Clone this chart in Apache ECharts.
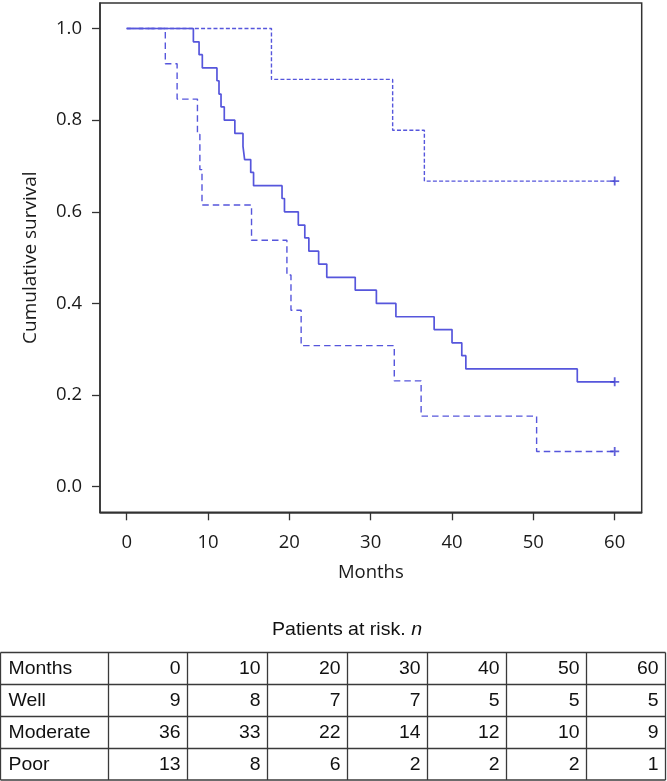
<!DOCTYPE html>
<html><head><meta charset="utf-8">
<script src="https://cdn.jsdelivr.net/npm/echarts@6/dist/echarts.min.js"></script>
<style>html,body{margin:0;padding:0;background:#fff}#c{width:667px;height:781px}</style>
</head><body><div id="c"></div>
<script>
// ---- data ----
const xTicks = [0, 10, 20, 30, 40, 50, 60];
const yTicks = [0, 0.2, 0.4, 0.6, 0.8, 1.0];

const wellT = [0, 17.8, 32.7, 36.6, 60];
const wellS = [1, 0.889, 0.778, 0.667, 0.667];

const modT = [0, 8.2, 8.9, 9.3, 11.1, 11.35, 11.6, 12.0, 13.3, 14.3, 14.5, 15.25, 15.6,
  19.1, 19.4, 21.1, 21.9, 22.4, 23.6, 24.6, 28.1, 30.7, 33.1, 37.8, 40.0, 41.2, 41.7, 55.4, 60];
const modS = [1, 0.971, 0.943, 0.914, 0.886, 0.857, 0.829, 0.800, 0.771, 0.743, 0.714, 0.686, 0.657,
  0.629, 0.600, 0.571, 0.543, 0.514, 0.486, 0.457, 0.429, 0.400, 0.371, 0.343, 0.314, 0.286, 0.257, 0.229, 0.229];

const poorT = [0, 4.75, 6.2, 8.7, 9.0, 9.26, 15.35, 19.7, 20.2, 21.45, 32.9, 36.2, 50.4, 60];
const poorS = [1, 0.923, 0.846, 0.769, 0.692, 0.615, 0.538, 0.462, 0.385, 0.308, 0.231, 0.154, 0.077, 0.077];

const riskHeader = ['Months', '0', '10', '20', '30', '40', '50', '60'];
const riskWell = ['Well', 9, 8, 7, 7, 5, 5, 5];
const riskModerate = ['Moderate', 36, 33, 22, 14, 12, 10, 9];
const riskPoor = ['Poor', 13, 8, 6, 2, 2, 2, 1];
const riskTitle = 'Patients at risk. ';

// ---- chart ----
const lineColor = '#5656dc';
const censorColor = '#3a3ad0';
const zip = (t, s) => t.map((v, i) => [v, s[i]]);
const plusPath = 'path://M4,0H6V4H10V6H6V10H4V6H0V4H4Z';

const chart = echarts.init(document.getElementById('c'), null, {renderer: 'canvas'});

// table graphics
const colX = [0.5, 108.5, 187.5, 267.5, 347.5, 427.5, 506.5, 586.5, 665.5];
const rowY = [652.5, 684.5, 716.5, 748.5, 780];
const rows = [riskHeader, riskWell, riskModerate, riskPoor];
const tableFont = 'Liberation Sans, Arial, sans-serif';
const g = [];
colX.forEach(x => g.push({type: 'line', shape: {x1: x, y1: rowY[0], x2: x, y2: rowY[rowY.length - 1]},
  style: {stroke: '#3a3a3a', lineWidth: 1.3}, silent: true}));
rowY.forEach(y => g.push({type: 'line', shape: {x1: colX[0], y1: y, x2: colX[colX.length - 1], y2: y},
  style: {stroke: '#3a3a3a', lineWidth: 1.3}, silent: true}));
rows.forEach((row, r) => {
  const cy = (rowY[r] + rowY[r + 1]) / 2 + 0.5;
  row.forEach((val, c) => {
    const left = c === 0;
    g.push({
      type: 'text', silent: true,
      x: left ? colX[0] + 8 : colX[c + 1] - 7, y: cy, scaleX: 1.05,
      style: {text: String(val), x: 0, y: 0, fontSize: 18.5, fontFamily: tableFont, fill: '#111',
        align: left ? 'left' : 'right', textAlign: left ? 'left' : 'right',
        verticalAlign: 'middle', textVerticalAlign: 'middle'}
    });
  });
});
g.push({
  type: 'text', silent: true, x: 347, y: 630, scaleX: 1.03,
  style: {text: '{a|' + riskTitle + '}{b|n}', x: 0, y: 0, fontSize: 19, fontFamily: tableFont, fill: '#111',
    align: 'center', textAlign: 'center', verticalAlign: 'middle', textVerticalAlign: 'middle',
    rich: {a: {fontSize: 19, fontFamily: tableFont, fill: '#111', color: '#111'},
           b: {fontSize: 19, fontFamily: tableFont, fontStyle: 'italic', fill: '#111', color: '#111'}}}
});

const axisFont = 'Open Sans';
chart.setOption({
  animation: false,
  backgroundColor: '#fff',
  grid: {left: 100, right: 25.3, top: 3, bottom: 268.7, show: true, borderColor: '#333', borderWidth: 1.5, backgroundColor: 'transparent'},
  xAxis: {
    type: 'value', min: -3.28, max: 63.32,
    name: 'Months', nameLocation: 'middle', nameGap: 51,
    nameTextStyle: {fontFamily: axisFont, fontSize: 18.5, color: '#1a1a1a'},
    axisLine: {show: true, onZero: false, lineStyle: {color: '#333', width: 1.5}},
    axisTick: {show: true, customValues: xTicks, length: 8, inside: false, lineStyle: {color: '#333', width: 1.3}},
    axisLabel: {customValues: xTicks, margin: 21, fontFamily: axisFont, fontSize: 18.5, color: '#1a1a1a'},
    splitLine: {show: false}
  },
  yAxis: {
    type: 'value', min: -0.0558, max: 1.0557,
    name: 'Cumulative survival', nameLocation: 'middle', nameGap: 60, nameRotate: 90,
    nameTextStyle: {fontFamily: axisFont, fontSize: 19, color: '#1a1a1a'},
    axisLine: {show: true, onZero: false, lineStyle: {color: '#333', width: 1.5}},
    axisTick: {show: true, customValues: yTicks, length: 8, inside: false, lineStyle: {color: '#333', width: 1.3}},
    axisLabel: {customValues: yTicks, margin: 18, fontFamily: axisFont, fontSize: 18.5, color: '#1a1a1a',
      formatter: v => v.toFixed(1)},
    splitLine: {show: false}
  },
  series: [
    {name: 'Well', type: 'line', step: 'end', showSymbol: false, data: zip(wellT, wellS),
      lineStyle: {color: lineColor, width: 1.4, type: [4, 2.2]}, z: 2},
    {name: 'Poor', type: 'line', step: 'end', showSymbol: false, data: zip(poorT, poorS),
      lineStyle: {color: lineColor, width: 1.4, type: [6.5, 4]}, z: 2},
    {name: 'Moderate', type: 'line', step: 'end', showSymbol: false, data: zip(modT, modS),
      lineStyle: {color: lineColor, width: 1.7, type: 'solid'}, z: 3},
    {name: 'Censored', type: 'scatter', symbol: plusPath, symbolSize: 9,
      data: [[wellT[wellT.length - 1], wellS[wellS.length - 1]],
             [modT[modT.length - 1], modS[modS.length - 1]],
             [poorT[poorT.length - 1], poorS[poorS.length - 1]]],
      itemStyle: {color: censorColor}, z: 4}
  ],
  graphic: g
});
</script></body></html>
